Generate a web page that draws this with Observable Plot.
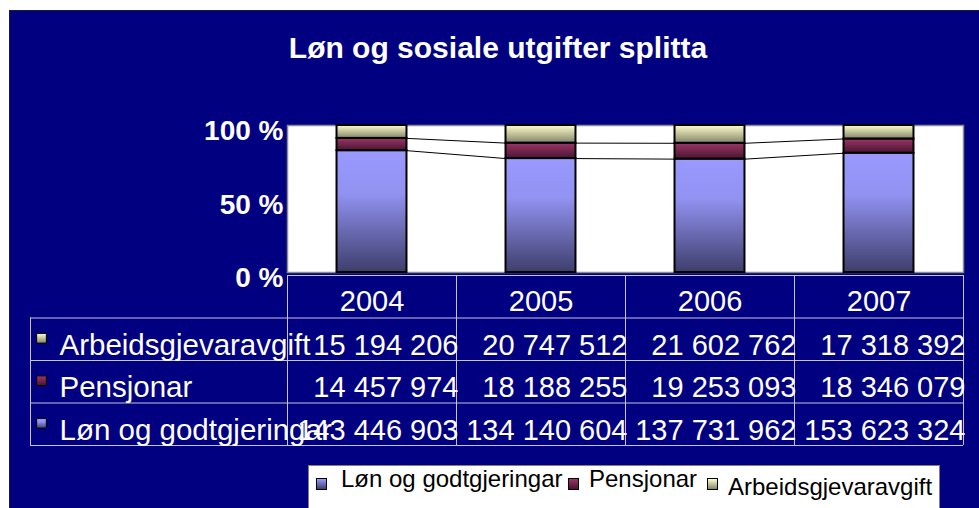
<!DOCTYPE html>
<html>
<head>
<meta charset="utf-8">
<script src="https://cdn.jsdelivr.net/npm/d3@7"></script>
<script src="https://cdn.jsdelivr.net/npm/@observablehq/plot@0.6"></script>
<style>
  html, body { margin: 0; padding: 0; }
  body { width: 979px; height: 508px; overflow: hidden; position: relative; background: #fff;
         font-family: "Liberation Sans", Arial, sans-serif; }
  #bg { position: absolute; left: 9px; top: 10px; width: 970px; height: 498px; background: #000080;
        border-left: 1px solid #1a1a40; border-top: 1px solid #1a1a40; box-sizing: border-box; }
  #title { position: absolute; left: 0; width: 996px; top: 33px; text-align: center; color: #fff;
           font-weight: bold; font-size: 30px; line-height: 30px; white-space: nowrap; }
  .abs { position: absolute; }
  #legend { position: absolute; left: 308px; top: 465px; width: 632px; height: 50px; background: #fff;
            border: 1px solid #808080; box-sizing: border-box; }
  .lkey { position: absolute; width: 9px; height: 10px; border: 1px solid #000; }
  .ltxt { position: absolute; font-size: 24px; line-height: 24px; color: #000; white-space: nowrap; }
</style>
</head>
<body>
<div id="bg"></div>
<div id="title">Løn og sosiale utgifter splitta</div>
<svg width="0" height="0" style="position:absolute">
  <defs>
    <linearGradient id="gL" x1="0" y1="0" x2="0" y2="1">
      <stop offset="0" stop-color="#9999ff"/>
      <stop offset="0.35" stop-color="#9292f2"/>
      <stop offset="1" stop-color="#3e3e6c"/>
    </linearGradient>
    <linearGradient id="gP" x1="0" y1="0" x2="0" y2="1">
      <stop offset="0" stop-color="#9c3669"/>
      <stop offset="1" stop-color="#4a1530"/>
    </linearGradient>
    <linearGradient id="gA" x1="0" y1="0" x2="0" y2="1">
      <stop offset="0" stop-color="#ffffcc"/>
      <stop offset="1" stop-color="#85856a"/>
    </linearGradient>
  </defs>
</svg>
<div id="chart" class="abs" style="left:0;top:100px"></div>
<div id="table" class="abs" style="left:0;top:274px"></div>
<div id="legend"></div>
<script>
// ---- data ----
const years = ["2004", "2005", "2006", "2007"];
const seriesNames = ["Løn og godtgjeringar", "Pensjonar", "Arbeidsgjevaravgift"];
const lon = [143446903, 134140604, 137731962, 153623324];
const pensjonar = [14457974, 18188255, 19253093, 18346079];
const arbeid = [15194206, 20747512, 21602762, 17318392];
const yTicks = [0, 50, 100];
const gradients = ["url(#gL)", "url(#gP)", "url(#gA)"];
const cssGradients = ["linear-gradient(#9999ff, #3e3e6c)", "linear-gradient(#9c3669, #4a1530)", "linear-gradient(#ffffcc, #85856a)"];

const fmt = d3.formatLocale({decimal: ",", thousands: " ", grouping: [3], currency: ["", " kr"]}).format(",d");
const font = "'Liberation Sans', Arial, sans-serif";

// ---- 100% stacked values ----
const stacks = years.map((yr, i) => {
  const tot = lon[i] + pensjonar[i] + arbeid[i];
  const l = lon[i] / tot * 100;
  const lp = (lon[i] + pensjonar[i]) / tot * 100;
  return {i, l, lp};
});
const links = [];
for (let i = 0; i < years.length - 1; i++) {
  links.push({i, a: stacks[i].l, b: stacks[i + 1].l});
  links.push({i, a: stacks[i].lp, b: stacks[i + 1].lp});
}
const halfW = 0.207;

const chart = Plot.plot({
  width: 979, height: 174,
  marginTop: 25, marginBottom: 2, marginLeft: 287, marginRight: 16,
  x: {type: "linear", domain: [-0.5, years.length - 0.5], axis: null},
  y: {domain: [0, 100], axis: null},
  style: {background: "none", overflow: "visible", fontFamily: font, maxWidth: "none"},
  marks: [
    Plot.frame({fill: "white", stroke: "#8c8c8c", strokeWidth: 1.5}),
    Plot.rect(stacks, {x1: d => d.i - halfW, x2: d => d.i + halfW, y1: 0, y2: "l", fill: gradients[0], stroke: "#000", strokeWidth: 2}),
    Plot.rect(stacks, {x1: d => d.i - halfW, x2: d => d.i + halfW, y1: "l", y2: "lp", fill: gradients[1], stroke: "#000", strokeWidth: 2}),
    Plot.rect(stacks, {x1: d => d.i - halfW, x2: d => d.i + halfW, y1: "lp", y2: 100, fill: gradients[2], stroke: "#000", strokeWidth: 2}),
    Plot.link(links, {x1: d => d.i + halfW, x2: d => d.i + 1 - halfW, y1: "a", y2: "b", stroke: "#000", strokeWidth: 1}),
    Plot.text(yTicks, {x: -0.5, y: d => d, text: d => d + " %", textAnchor: "end", dx: -4, dy: 6,
      fill: "white", fontSize: 28, fontWeight: "bold"})
  ]
});
document.getElementById("chart").appendChild(chart);

// ---- data table ----
const rows = [
  {name: seriesNames[2], vals: arbeid, g: gradients[2]},
  {name: seriesNames[1], vals: pensjonar, g: gradients[1]},
  {name: seriesNames[0], vals: lon, g: gradients[0]}
];
const cells = [];
rows.forEach((r, j) => r.vals.forEach((v, i) => cells.push({i, j, v})));
const grid = "#c4c4dc";

const table = Plot.plot({
  width: 979, height: 176,
  marginTop: 1, marginBottom: 5, marginLeft: 287, marginRight: 16,
  x: {type: "linear", domain: [-0.5, years.length - 0.5], axis: null},
  y: {type: "linear", domain: [0, 4], reverse: true, axis: null},
  style: {background: "none", overflow: "visible", fontFamily: font, maxWidth: "none"},
  marks: [
    Plot.ruleY([0], {x1: -0.5, x2: years.length - 0.5, stroke: grid}),
    Plot.ruleY([1, 2, 3, 4], {x1: -0.5, x2: years.length - 0.5, insetLeft: -257, stroke: grid}),
    Plot.ruleX(d3.range(years.length + 1).map(k => k - 0.5), {y1: 0, y2: 4, stroke: grid}),
    Plot.ruleX([-0.5], {y1: 1, y2: 4, dx: -257, stroke: grid}),
    Plot.text(years, {x: (d, i) => i, y: 0.5, text: d => d, fill: "white", fontSize: 29, dy: 5}),
    Plot.text(rows, {x: -0.5, y: (d, j) => j + 1.5, text: "name", textAnchor: "start", dx: -228, dy: 6,
      fill: "white", fontSize: 29.5}),
    ...rows.map((r, j) => Plot.dot([r], {x: -0.5, y: j + 1.5, symbol: "square", r: 5.5, dx: -246, dy: -1,
      fill: r.g, stroke: "#000", strokeWidth: 1})),
    Plot.text(cells, {x: d => d.i + 0.5, y: d => d.j + 1.5, text: d => fmt(d.v), textAnchor: "end", dx: 2, dy: 6,
      fill: "white", fontSize: 29})
  ]
});
document.getElementById("table").appendChild(table);

// ---- legend ----
const legend = document.getElementById("legend");
const keyX = [7, 259, 398];
const txtX = [32, 280, 419];
const txtTop = [1, 1, 9];
seriesNames.forEach((name, k) => {
  const key = document.createElement("div");
  key.className = "lkey";
  key.style.left = keyX[k] + "px";
  key.style.top = "12px";
  key.style.background = cssGradients[k];
  legend.appendChild(key);
  const t = document.createElement("div");
  t.className = "ltxt";
  t.style.left = txtX[k] + "px";
  t.style.top = txtTop[k] + "px";
  t.textContent = name;
  legend.appendChild(t);
});
</script>
</body>
</html>
